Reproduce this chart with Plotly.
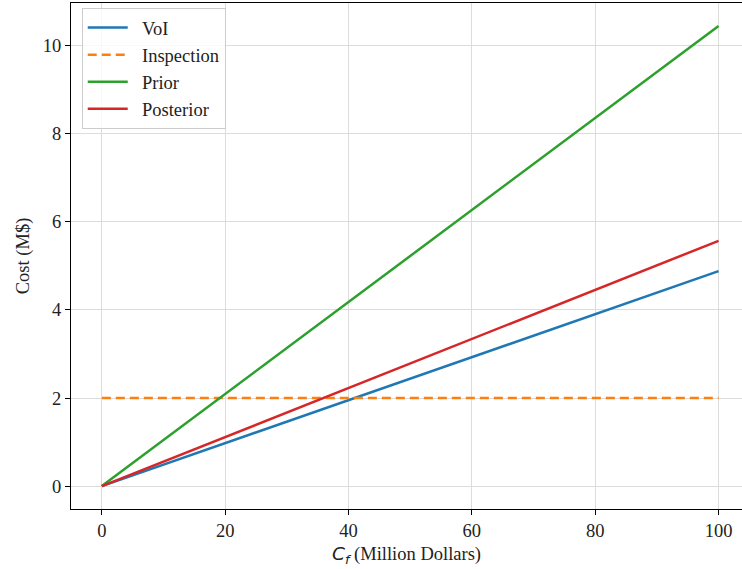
import plotly.graph_objects as go

cf = [0, 100]
voi = [0.0, 4.88]
inspection = [2.0, 2.0]
prior = [0.0, 10.45]
posterior = [0.0, 5.57]

x_ticks = [0, 20, 40, 60, 80, 100]
y_ticks = [0, 2, 4, 6, 8, 10]

pad = "\u00a0\u00a0"
fig = go.Figure()
fig.add_trace(go.Scatter(x=cf, y=voi, mode="lines", name=pad + "VoI",
                         line=dict(color="#1f77b4", width=2.5)))
fig.add_trace(go.Scatter(x=cf, y=inspection, mode="lines", name=pad + "Inspection",
                         line=dict(color="#ff7f0e", width=2.5, dash="9px,5px")))
fig.add_trace(go.Scatter(x=cf, y=prior, mode="lines", name=pad + "Prior",
                         line=dict(color="#2ca02c", width=2.5)))
fig.add_trace(go.Scatter(x=cf, y=posterior, mode="lines", name=pad + "Posterior",
                         line=dict(color="#d62728", width=2.5)))

font = "Liberation Serif, Times New Roman, serif"
fs = 18.5
fig.update_layout(
    width=742, height=569,
    margin=dict(l=71, r=0, t=3, b=60, autoexpand=False),
    paper_bgcolor="white", plot_bgcolor="white",
    font=dict(family=font, size=fs, color="#222222"),
    showlegend=True,
    legend=dict(x=0.016, y=0.99, xanchor="left", yanchor="top",
                bgcolor="rgba(255,255,255,0.8)", bordercolor="#cccccc", borderwidth=1,
                font=dict(family=font, size=fs), itemwidth=40, tracegroupgap=0),
)
fig.update_xaxes(
    range=[-5, 103.8], tickvals=x_ticks, ticks="outside", ticklen=5, tickcolor="black",
    showline=True, linecolor="black", linewidth=1.2, mirror=True, automargin=False,
    showgrid=True, gridcolor="#dcdcdc", gridwidth=1, zeroline=False,
    title=dict(text="<span style=\"font-family:DejaVu Sans\"><i>C<sub>f</sub></i></span> (Million Dollars)",
               standoff=6, font=dict(size=fs)),
)
fig.update_yaxes(
    range=[-0.52, 10.97], tickvals=y_ticks, ticks="outside", ticklen=5, tickcolor="black",
    showline=True, linecolor="black", linewidth=1.2, automargin=False,
    showgrid=True, gridcolor="#dcdcdc", gridwidth=1, zeroline=False,
    title=dict(text="Cost (M$)", standoff=8, font=dict(size=fs)),
)

fig.write_html("out.html", config={"displayModeBar": False},
               post_script="document.body.style.margin='0';document.body.style.overflow='hidden';")
